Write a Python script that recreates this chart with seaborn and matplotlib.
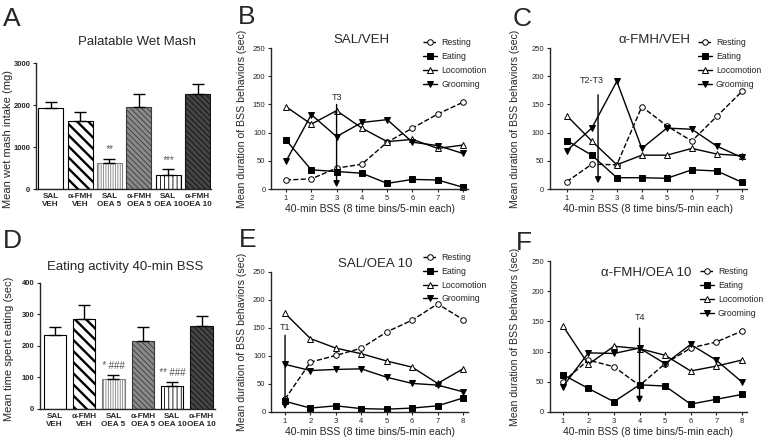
import numpy as np
import pandas as pd
import seaborn as sns
import matplotlib.pyplot as plt

sns.set_style("ticks")
plt.rcParams['font.family'] = ['Liberation Sans', 'DejaVu Sans']
plt.rcParams['hatch.linewidth'] = 0.7

# bar panels (A and D)
bar_labels = ['SAL\nVEH', 'α-FMH\nVEH', 'SAL\nOEA 5', 'α-FMH\nOEA 5', 'SAL\nOEA 10', 'α-FMH\nOEA 10']
intake_mean = [1940, 1630, 610, 1960, 335, 2255]
intake_sem = [125, 200, 105, 300, 135, 240]
intake_sig = ['', '', '**', '', '***', '']
eating_mean = [235, 286, 96, 217, 74, 262]
eating_sem = [25, 43, 12, 42, 13, 32]
eating_sig = ['', '', '* ###', '', '** ###', '']

bar_fill = ['white', 'white', 'white', '#8a8a8a', 'white', '#454545']
bar_edge = ['black', 'black', '#808080', '#3a3a3a', 'black', '#111111']
bar_hatch = ['', '\\\\\\', '|||||||', '\\\\\\\\\\\\', '||||', '\\\\\\\\\\\\']

# line panels (B, C, E, F) - 8 time bins of 5 min
bins = [1, 2, 3, 4, 5, 6, 7, 8]
behaviors = ['Resting', 'Eating', 'Locomotion', 'Grooming']

sal_veh = {
    'Resting': [16, 18, 37, 44, 83, 108, 133, 154],
    'Eating': [87, 34, 31, 28, 10, 17, 16, 3],
    'Locomotion': [146, 115, 139, 108, 84, 88, 72, 78],
    'Grooming': [49, 132, 93, 118, 123, 83, 77, 63],
}
fmh_veh = {
    'Resting': [13, 44, 43, 146, 112, 85, 129, 173],
    'Eating': [86, 60, 20, 20, 19, 34, 32, 12],
    'Locomotion': [130, 85, 43, 60, 60, 72, 62, 59],
    'Grooming': [68, 108, 191, 72, 108, 106, 76, 56],
}
sal_oea10 = {
    'Resting': [23, 89, 101, 114, 143, 164, 193, 165],
    'Eating': [19, 7, 11, 6, 5, 7, 11, 25],
    'Locomotion': [176, 131, 114, 104, 91, 80, 51, 77],
    'Grooming': [85, 74, 76, 77, 62, 51, 48, 36],
}
fmh_oea10 = {
    'Resting': [50, 86, 75, 44, 80, 106, 116, 134],
    'Eating': [62, 39, 17, 45, 43, 13, 21, 29],
    'Locomotion': [143, 79, 109, 105, 94, 68, 76, 86],
    'Grooming': [42, 98, 97, 106, 80, 112, 86, 50],
}

styles = {
    'Resting': dict(marker='o', linestyle='--', markerfacecolor='white'),
    'Eating': dict(marker='s', linestyle='-', markerfacecolor='black'),
    'Locomotion': dict(marker='^', linestyle='-', markerfacecolor='white'),
    'Grooming': dict(marker='v', linestyle='-', markerfacecolor='black'),
}

ylab_lines = "Mean duration of BSS behaviors (sec)"
xlab_lines = "40-min BSS (8 time bins/5-min each)"

fig = plt.figure(figsize=(7.7, 4.41), dpi=100)


def style_axis(ax):
    sns.despine(ax=ax)
    ax.spines['left'].set_linewidth(1.0)
    ax.spines['bottom'].set_linewidth(1.0)
    ax.tick_params(axis='both', labelsize=5.5, length=2.5, width=0.8, pad=1.5)


def bar_panel(rect, means, sems, sig, ymax, ystep, width, title, title_xy,
              ylabel, ylab_xy, sig_off):
    ax = fig.add_axes(rect)
    df = pd.DataFrame({'group': bar_labels, 'value': means})
    sns.barplot(data=df, x='group', y='value', hue='group', palette=bar_fill,
                legend=False, width=width, edgecolor='black', linewidth=0.8, ax=ax)
    for i, p in enumerate(ax.patches):
        p.set_edgecolor(bar_edge[i])
        p.set_hatch(bar_hatch[i])
        if hasattr(p, 'set_hatch_linewidth'):
            p.set_hatch_linewidth(1.7 if i == 1 else 0.6)
    xs = np.arange(len(means))
    ax.errorbar(xs, means, yerr=[np.zeros(len(sems)), sems], fmt='none',
                ecolor='black', elinewidth=1.0, capsize=4.5, capthick=1.0, zorder=1)
    for i, s in enumerate(sig):
        if s:
            ax.text(xs[i], means[i] + sems[i] + sig_off, s, ha='center', va='center',
                    fontsize=7, color='#555555', style='italic')
    ax.set_ylim(0, ymax)
    ax.set_yticks(np.arange(0, ymax + 1, ystep))
    ax.set_xlim(-0.5, 5.45)
    style_axis(ax)
    ax.tick_params(axis='x', length=0, pad=3, labelsize=5.9)
    for t in ax.get_xticklabels() + ax.get_yticklabels():
        t.set_fontweight('bold')
    ax.set_xlabel('')
    ax.set_ylabel(ylabel, fontsize=8)
    ax.yaxis.set_label_coords(*ylab_xy)
    ax.text(title_xy[0], title_xy[1], title, transform=ax.transAxes,
            ha='center', va='center', fontsize=9.5)
    return ax


def line_panel(rect, data, xlim, title, title_xy, leg_xy, ylab_x, arrow):
    ax = fig.add_axes(rect)
    for b in behaviors:
        st = styles[b]
        sns.lineplot(x=bins, y=data[b], ax=ax, color='black', linewidth=1.0,
                     marker=st['marker'], linestyle=st['linestyle'],
                     markerfacecolor=st['markerfacecolor'], markeredgecolor='black',
                     markersize=4, markeredgewidth=0.7, label=b, clip_on=False)
    ax.set_xlim(*xlim)
    ax.set_ylim(0, 250)
    ax.set_xticks(bins)
    ax.set_yticks(np.arange(0, 251, 50))
    style_axis(ax)
    ax.set_xlabel(xlab_lines, fontsize=7.5, labelpad=2)
    ax.set_ylabel(ylab_lines, fontsize=7.6)
    ax.yaxis.set_label_coords(ylab_x, 0.5)
    ax.text(title_xy[0], title_xy[1], title, transform=ax.transAxes,
            ha='center', va='center', fontsize=9.5)
    ax.legend(loc='upper left', bbox_to_anchor=leg_xy, frameon=False, fontsize=6.3,
              handlelength=1.6, handletextpad=0.5, labelspacing=0.55, borderpad=0,
              borderaxespad=0)
    ax_x, y_top, y_bot, label, tx, ty = arrow
    ax.annotate('', xy=(ax_x, y_bot), xytext=(ax_x, y_top),
                arrowprops=dict(arrowstyle='-|>', color='black', lw=1.0,
                                mutation_scale=9, shrinkA=0, shrinkB=0))
    ax.text(tx, ty, label, ha='center', va='center', fontsize=6.5)
    return ax


# A
bar_panel([0.0468, 0.5714, 0.227, 0.2857], intake_mean, intake_sem, intake_sig,
          3000, 1000, 0.85, 'Palatable Wet Mash', (0.58, 1.17),
          'Mean wet mash intake (mg)', (-0.134, 0.4), 230)
# D
bar_panel([0.052, 0.0726, 0.227, 0.2857], eating_mean, eating_sem, eating_sig,
          400, 100, 0.76, 'Eating activity 40-min BSS', (0.49, 1.13),
          'Mean time spent eating (sec)', (-0.15, 0.48), 28)

# B
line_panel([0.352, 0.5714, 0.256, 0.3197], sal_veh, (0.41, 8.2), 'SAL/VEH', (0.46, 1.06),
           (0.77, 1.07), -0.12, (3, 150, 3, 'T3', 3, 163))
# C
line_panel([0.714, 0.5714, 0.256, 0.3197], fmh_veh, (0.32, 8.2), 'α-FMH/VEH', (0.53, 1.06),
           (0.75, 1.07), -0.15, (2.25, 167, 10, 'T2-T3', 2.0, 193))
# E
line_panel([0.352, 0.0658, 0.256, 0.3175], sal_oea10, (0.45, 8.2), 'SAL/OEA 10', (0.53, 1.06),
           (0.77, 1.135), -0.12, (1, 137, 5, 'T1', 1, 150))
# F
line_panel([0.714, 0.0658, 0.256, 0.342], fmh_oea10, (0.49, 8.2), 'α-FMH/OEA 10', (0.49, 0.92),
           (0.76, 0.96), -0.15, (4, 139, 15, 'T4', 4, 156))

# panel letters (baseline positions in pixels)
for letter, px, py in [('A', 3, 26), ('B', 238, 24), ('C', 513, 26),
                       ('D', 3, 248), ('E', 239, 247), ('F', 516, 250)]:
    fig.text(px / 770, 1 - py / 441, letter, fontsize=19, ha='left', va='baseline')

fig.savefig('out.png', dpi=100)
